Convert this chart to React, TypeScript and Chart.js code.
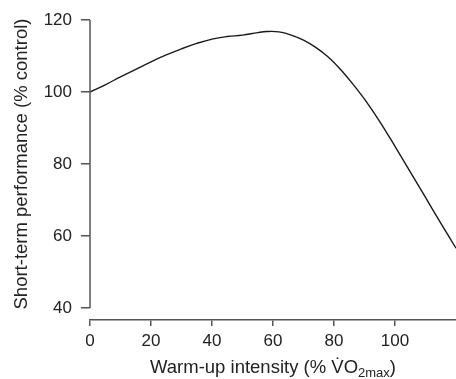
import React, { useEffect, useRef } from "react";
import { Chart, registerables } from "chart.js";

Chart.register(...registerables);

const intensity = [0, 5, 10, 15, 20, 25, 30, 35, 40, 45, 50, 55, 58, 62, 66, 70, 74, 78, 82, 86, 90, 95, 100, 105, 110, 115, 120];
const performance = [100, 102, 104.2, 106.3, 108.4, 110.3, 112, 113.5, 114.7, 115.4, 115.8, 116.5, 116.8, 116.7, 115.8, 114.4, 112.4, 109.8, 106.4, 102.4, 98.0, 91.8, 84.9, 77.8, 70.7, 63.6, 56.6];
const xTicks = [0, 20, 40, 60, 80, 100];
const yTicks = [40, 60, 80, 100, 120];
const yTitle = "Short-term performance (% control)";
const xTitleMain = "Warm-up intensity (% V\u0307O";
const xTitleSub = "2max";
const xTitleEnd = ")";

const FONT = "'Liberation Sans', Arial, Helvetica, sans-serif";
const AXIS = "#555555";
const TEXT = "#222222";

const axisPlugin = {
  id: "axisExtras",
  afterDraw(chart: any) {
    const ctx = chart.ctx;
    const xs = chart.scales.x;
    const ys = chart.scales.y;
    const area = chart.chartArea;
    ctx.save();
    ctx.strokeStyle = AXIS;
    ctx.lineWidth = 1.5;
    ctx.beginPath();
    const x0 = xs.getPixelForValue(0);
    ctx.moveTo(x0, ys.getPixelForValue(yTicks[0]));
    ctx.lineTo(x0, ys.getPixelForValue(yTicks[yTicks.length - 1]));
    ctx.stroke();

    ctx.fillStyle = TEXT;
    ctx.save();
    ctx.font = `18.5px ${FONT}`;
    const cy = (ys.getPixelForValue(yTicks[0]) + ys.getPixelForValue(yTicks[yTicks.length - 1])) / 2;
    ctx.translate(26.5, cy);
    ctx.rotate(-Math.PI / 2);
    ctx.textAlign = "center";
    ctx.textBaseline = "alphabetic";
    ctx.fillText(yTitle, 0, 0);
    ctx.restore();

    ctx.textBaseline = "alphabetic";
    ctx.textAlign = "left";
    const mainFont = `18.5px ${FONT}`;
    const subFont = `13px ${FONT}`;
    ctx.font = mainFont;
    const w1 = ctx.measureText(xTitleMain).width;
    const w3 = ctx.measureText(xTitleEnd).width;
    ctx.font = subFont;
    const w2 = ctx.measureText(xTitleSub).width;
    const total = w1 + w2 + w3;
    const cx = (area.left + area.right) / 2;
    let sx = cx - total / 2;
    const by = 373;
    ctx.font = mainFont;
    ctx.fillText(xTitleMain, sx, by);
    sx += w1;
    ctx.font = subFont;
    ctx.fillText(xTitleSub, sx, by + 4);
    sx += w2;
    ctx.font = mainFont;
    ctx.fillText(xTitleEnd, sx, by);
    ctx.restore();
  },
};

export default function App() {
  const ref = useRef<HTMLCanvasElement | null>(null);
  useEffect(() => {
    if (!ref.current) return;
    const chart = new Chart(ref.current, {
      type: "line",
      data: {
        datasets: [
          {
            data: intensity.map((x, i) => ({ x, y: performance[i] })),
            borderColor: "#1a1a1a",
            borderWidth: 1.4,
            pointRadius: 0,
            tension: 0.4,
            fill: false,
          },
        ],
      },
      options: {
        responsive: false,
        animation: false,
        events: [],
        layout: { padding: { top: 20, right: 0, left: 0, bottom: 0 } },
        plugins: { legend: { display: false }, tooltip: { enabled: false }, title: { display: false } },
        scales: {
          x: {
            type: "linear",
            min: 0,
            max: 120,
            afterBuildTicks: (s: any) => {
              s.ticks = xTicks.map((v) => ({ value: v }));
            },
            afterFit: (s: any) => {
              s.height = 59;
            },
            grid: { drawOnChartArea: false, drawTicks: true, tickLength: 6, color: AXIS, lineWidth: 1.5 },
            border: { display: true, color: AXIS, width: 1.5 },
            ticks: { color: TEXT, font: { family: FONT, size: 17 }, padding: 5, maxRotation: 0 },
          },
          y: {
            type: "linear",
            min: 36.6667,
            max: 120,
            afterBuildTicks: (s: any) => {
              s.ticks = yTicks.map((v) => ({ value: v }));
            },
            afterFit: (s: any) => {
              s.width = 90;
            },
            grid: { drawOnChartArea: false, drawTicks: true, tickLength: 9, color: AXIS, lineWidth: 1.5 },
            border: { display: false },
            ticks: { color: TEXT, font: { family: FONT, size: 17 }, padding: 9 },
          },
        },
      },
      plugins: [axisPlugin],
    });
    return () => chart.destroy();
  }, []);
  return (
    <div style={{ position: "absolute", left: 0, top: 0, width: 456, height: 379 }}>
      <canvas ref={ref} width={456} height={379} style={{ display: "block" }} />
    </div>
  );
}
